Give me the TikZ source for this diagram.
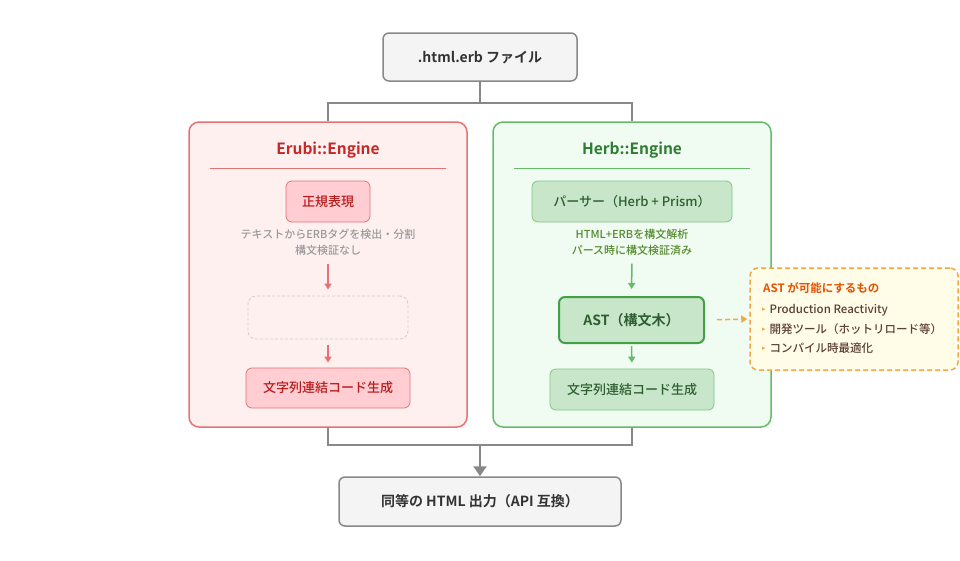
\documentclass[tikz,border=0pt]{standalone}
\usepackage{fontspec}
\setmainfont{Noto Sans CJK JP}[UprightFont=* Medium,BoldFont=* Bold]
\newfontfamily\symfont{DejaVu Sans}
\usepackage{xcolor}
\usetikzlibrary{arrows.meta,positioning,calc}
\definecolor{ioline}{HTML}{888888}
\definecolor{iofill}{HTML}{F4F4F4}
\definecolor{iotext}{HTML}{333333}
\definecolor{erubiline}{HTML}{E57373}
\definecolor{erubifill}{HTML}{FFF0F0}
\definecolor{erubititle}{HTML}{C62828}
\definecolor{erubibox}{HTML}{FFCDD2}
\definecolor{erubitext}{HTML}{B71C1C}
\definecolor{herbline}{HTML}{66BB6A}
\definecolor{herbfill}{HTML}{F0FBF2}
\definecolor{herbtitle}{HTML}{2E7D32}
\definecolor{herbbox}{HTML}{C8E6C9}
\definecolor{herbboxline}{HTML}{81C784}
\definecolor{herbtext}{HTML}{2E5E30}
\definecolor{herbnote}{HTML}{558B2F}
\definecolor{astline}{HTML}{43A047}
\definecolor{noteline}{HTML}{F0A848}
\definecolor{notefill}{HTML}{FFFCE8}
\definecolor{notetitle}{HTML}{E65100}
\definecolor{notetext}{HTML}{5D4037}
\newcommand{\notebullet}{{\symfont\fontsize{7}{8}\selectfont\color{noteline}\raisebox{1.5pt}{▸}}\,\,}

\begin{document}
\begin{tikzpicture}[
  x=1pt,y=-1pt,
  iobox/.style={draw=ioline,line width=1.5pt,rounded corners=6pt,fill=iofill,text=iotext,
    font=\fontsize{14}{17}\selectfont\bfseries,inner sep=0pt},
  engine/.style={line width=1.5pt,rounded corners=10pt,minimum width=278pt,minimum height=305pt,inner sep=0pt},
  etitle/.style={font=\fontsize{15.5}{18}\selectfont\bfseries},
  stepbox/.style={rounded corners=6pt,line width=0.8pt,font=\fontsize{13}{15}\selectfont,inner sep=0pt},
  memo/.style={font=\fontsize{11}{16}\selectfont,align=center,inner sep=0pt},
  item/.style={anchor=west,inner sep=0pt,text=notetext,font=\fontsize{11.5}{13}\selectfont},
  conn/.style={draw=ioline,line width=2pt},
  redarr/.style={draw=erubiline,line width=1.5pt,-{Triangle[length=6pt,width=7pt]}},
  greenarr/.style={draw=herbline,line width=1.5pt,-{Triangle[length=6pt,width=7pt]}}
]
\useasboundingbox (0,0) rectangle (960,560);

% input and output
\node[iobox,minimum width=194pt,minimum height=48pt] (file) at (480,57) {.html.erb ファイル};
\node[iobox,minimum width=282pt,minimum height=49pt] (output) at (480,501.5) {同等の HTML 出力（API 互換）};

% engines
\node[engine,draw=erubiline,fill=erubifill] (erubi) at (328,274.5) {};
\node[engine,draw=herbline,fill=herbfill] (herb) at (632,274.5) {};

\coordinate (split) at (480,103);
\coordinate (merge) at (480,445);
\draw[conn] (file.south) -- (split);
\draw[conn] (split) -| (erubi.north);
\draw[conn] (split) -| (herb.north);
\draw[conn] (erubi.south) |- (merge);
\draw[conn] (herb.south) |- (merge);
\draw[conn,-{Triangle[length=10pt,width=13pt]}] (merge) -- (output.north);

% Erubi side
\node[etitle,text=erubititle] (erubiname) at (328,150) {Erubi::Engine};
\draw[erubiline,line width=0.8pt] (210,168) -- (446,168);
\node[stepbox,draw=erubiline,fill=erubibox,text=erubitext,minimum width=84pt,minimum height=41pt] (regex) at (328,201.5) {正規表現};
\node[memo,text=ioline!85!white,anchor=north] (erubimemo) at (328,229) {テキストからERBタグを検出・分割\\構文検証なし};
\node[draw=black!20,dash pattern=on 3pt off 2pt,rounded corners=8pt,line width=0.8pt,minimum width=160pt,minimum height=43pt] (blank) at (328,317.5) {};
\node[stepbox,draw=erubiline,fill=erubibox,text=erubitext,minimum width=164pt,minimum height=40pt] (erubigen) at (328,388) {文字列連結コード生成};
\draw[redarr,shorten <=8pt,shorten >=6pt] (erubimemo.south) -- (blank.north);
\draw[redarr,shorten <=6pt,shorten >=5pt] (blank.south) -- (erubigen.north);

% Herb side
\node[etitle,text=herbtitle] (herbname) at (632,150) {Herb::Engine};
\draw[herbline,line width=0.8pt] (514,168) -- (750,168);
\node[stepbox,draw=herbboxline,fill=herbbox,text=herbtext,minimum width=200pt,minimum height=41pt] (parser) at (632,201.5) {パーサー（Herb + Prism）};
\node[memo,text=herbnote,anchor=north] (herbmemo) at (632,229) {HTML+ERBを構文解析\\パース時に構文検証済み};
\node[stepbox,draw=astline,line width=2pt,fill=herbbox,text=herbtext,font=\fontsize{14}{16}\selectfont\bfseries,minimum width=145pt,minimum height=46pt] (ast) at (631.5,320) {AST（構文木）};
\node[stepbox,draw=herbboxline,fill=herbbox,text=herbtext,minimum width=164pt,minimum height=41pt] (herbgen) at (632,389.5) {文字列連結コード生成};
\draw[greenarr,shorten <=8pt,shorten >=7pt] (herbmemo.south) -- (ast.north);
\draw[greenarr,shorten <=2pt,shorten >=6pt] (ast.south) -- (herbgen.north);

% what the AST enables
\node[draw=noteline,fill=notefill,line width=1.5pt,dash pattern=on 5pt off 3pt,rounded corners=8pt,
  minimum width=208pt,minimum height=102pt,inner sep=0pt] (astnote) at (854,319) {};
\draw[noteline,line width=1.5pt,dash pattern=on 5pt off 3pt,-{Triangle[length=6pt,width=7pt]},shorten <=12pt,shorten >=2pt] (ast.east) -- (astnote.west);
\node[anchor=west,inner sep=0pt,text=notetitle,font=\fontsize{11.5}{13}\selectfont\bfseries] (notehead) at (763,288) {AST が可能にするもの};
\node[item] (item1) at (762,310) {\notebullet Production Reactivity};
\node[item] (item2) at (762,329) {\notebullet 開発ツール（ホットリロード等）};
\node[item] (item3) at (762,348) {\notebullet コンパイル時最適化};
\end{tikzpicture}
\end{document}
